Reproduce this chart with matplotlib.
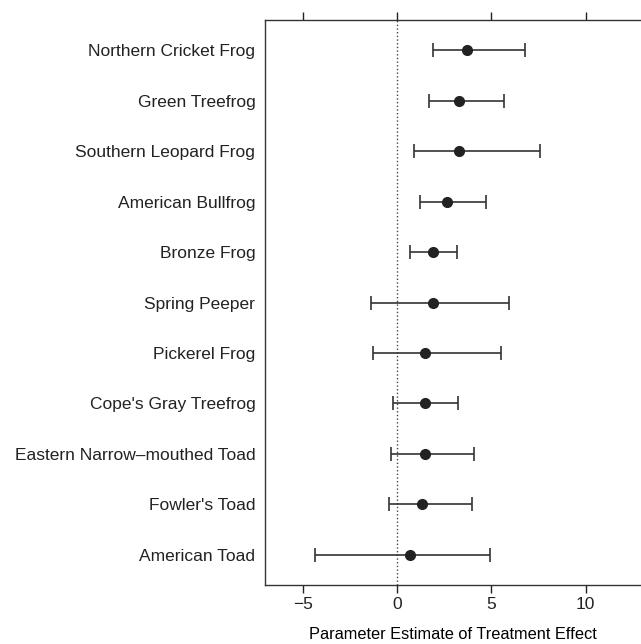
import matplotlib
matplotlib.use('Agg')
import matplotlib.pyplot as plt

# species, from top to bottom
species = ["Northern Cricket Frog", "Green Treefrog", "Southern Leopard Frog",
           "American Bullfrog", "Bronze Frog", "Spring Peeper", "Pickerel Frog",
           "Cope's Gray Treefrog", "Eastern Narrow\u2013mouthed Toad",
           "Fowler's Toad", "American Toad"]
estimate = [3.71, 3.28, 3.26, 2.62, 1.88, 1.88, 1.49, 1.45, 1.45, 1.33, 0.69]
lower = [1.88, 1.67, 0.87, 1.21, 0.66, -1.38, -1.28, -0.23, -0.34, -0.44, -4.38]
upper = [6.77, 5.65, 7.59, 4.72, 3.19, 5.94, 5.53, 3.24, 4.08, 3.95, 4.95]
xticks = [-5, 0, 5, 10]

plt.rcParams['font.family'] = ['Liberation Sans', 'DejaVu Sans']
plt.rcParams['text.color'] = '#222222'
plt.rcParams['xtick.labelcolor'] = '#222222'
plt.rcParams['ytick.labelcolor'] = '#222222'

fig = plt.figure(figsize=(6.41, 6.44), dpi=100)
ax = fig.add_axes([265/641, 1 - 585/644, 1 - 265/641 + 0.001, (585 - 20)/644])

n = len(species)
ypos = [n - i for i in range(n)]
err_lo = [e - l for e, l in zip(estimate, lower)]
err_hi = [u - e for e, u in zip(estimate, upper)]

# reference line at zero
ax.axvline(0, color='#444444', linestyle=':', linewidth=1.0, zorder=1)
ax.errorbar(estimate, ypos, xerr=[err_lo, err_hi], fmt='o', color='#222222',
            ecolor='#333333', elinewidth=1.2, capsize=4.8, capthick=1.2,
            markersize=7, zorder=3)

ax.set_xlim(-7.02, 12.98)
ax.set_ylim(0.4, n + 0.6)
ax.set_yticks(ypos)
ax.set_yticklabels(species, fontsize=12.5)
ax.tick_params(axis='y', length=0, pad=7)
ax.set_xticks(xticks)
ax.set_xticklabels([f"\u2212{abs(t)}" if t < 0 else str(t) for t in xticks], fontsize=12.5)
ax.tick_params(axis='x', direction='out', length=5.5, width=1, top=True, labeltop=False,
               pad=3, color='#222222')
ax.set_xlabel("Parameter Estimate of Treatment Effect", fontsize=11.8, labelpad=11)

for s in ['left', 'top', 'bottom']:
    ax.spines[s].set_color('#333333')
    ax.spines[s].set_linewidth(1.0)
ax.spines['right'].set_visible(False)

fig.savefig('out.png', dpi=100)
